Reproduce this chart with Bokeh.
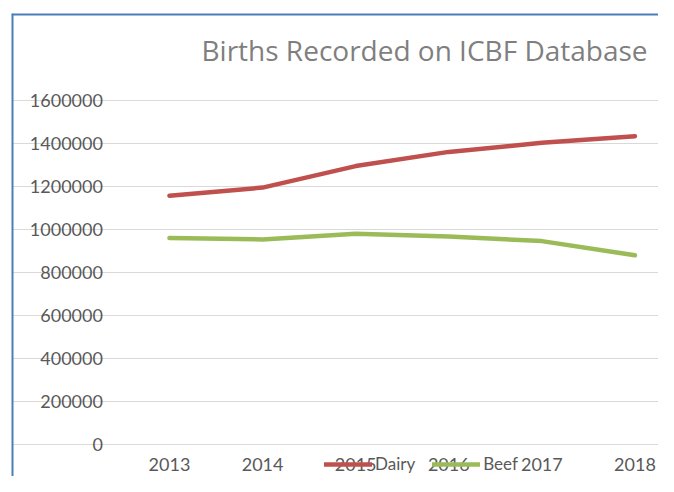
from bokeh.plotting import figure
from bokeh.models import (Range1d, FixedTicker, Legend, LegendItem,
                          NumeralTickFormatter, Label, Span)
from bokeh.embed import file_html
from bokeh.resources import INLINE

years = ["2013", "2014", "2015", "2016", "2017", "2018"]
dairy = [1157000, 1195000, 1295000, 1361000, 1403000, 1434000]
beef = [961000, 954000, 980000, 968000, 946000, 880000]
y_ticks = [0, 200000, 400000, 600000, 800000, 1000000, 1200000, 1400000, 1600000]
title_text = "Births Recorded on ICBF Database"

FONT = "Lato"
x = list(range(len(years)))

# the frame covers the chart area; the plot area is right of x=-0.5 / above y=0
X0, X1 = -1.697, 5.253
Y0, Y1 = -148800, 2004650

p = figure(width=658, height=476, output_backend="svg", toolbar_location=None,
           x_range=Range1d(X0, X1), y_range=Range1d(Y0, Y1),
           min_border_left=11, min_border_right=0, min_border_top=13,
           min_border_bottom=0, background_fill_color="white",
           border_fill_color="white", outline_line_color=None)
p.title.visible = False

r1 = p.line(x, dairy, line_color="#C0504D", line_width=4.5, line_cap="round", line_join="round")
r2 = p.line(x, beef, line_color="#9BBB59", line_width=4.5, line_cap="round", line_join="round")

p.xaxis.fixed_location = 0
p.yaxis.fixed_location = -0.5
p.xaxis.ticker = FixedTicker(ticks=x)
p.xaxis.major_label_overrides = {i: yr for i, yr in enumerate(years)}
p.yaxis.ticker = FixedTicker(ticks=y_ticks)
p.yaxis.formatter = NumeralTickFormatter(format="0")
for ax in (p.xaxis[0], p.yaxis[0]):
    ax.axis_line_color = None
    ax.major_tick_line_color = None
    ax.minor_tick_line_color = None
    ax.major_tick_in = 0
    ax.major_tick_out = 0
    ax.major_label_text_font = FONT
    ax.major_label_text_font_size = "18px"
    ax.major_label_text_color = "#595959"
p.yaxis.major_label_standoff = 20
p.xaxis.major_label_standoff = 13

p.xgrid.visible = False
p.ygrid.ticker = FixedTicker(ticks=y_ticks)
p.ygrid.bounds = (-0.5, X1)
p.ygrid.grid_line_color = "#D9D9D9"
p.ygrid.grid_line_width = 1.2

# chart-area border (left and top edges)
p.add_layout(Span(location=X0, dimension="height", line_color="#4A7EBB", line_width=4))
p.add_layout(Span(location=Y1, dimension="width", line_color="#4A7EBB", line_width=4))

title = Label(x=0.344, y=1837000, text=title_text, text_font="Open Sans",
              text_font_size="28px", text_color="#7F7F7F", text_baseline="alphabetic")
p.add_layout(title)

legend = Legend(items=[LegendItem(label="Dairy", renderers=[r1]),
                       LegendItem(label="Beef", renderers=[r2])],
                location=(313, 2), orientation="horizontal",
                glyph_width=48, glyph_height=20, label_standoff=3, spacing=17,
                padding=0, margin=0, border_line_color=None,
                background_fill_alpha=0, label_text_font=FONT,
                label_text_font_size="17px", label_text_color="#595959")
p.add_layout(legend, "center")

open("out.html", "w").write(file_html(p, INLINE))
